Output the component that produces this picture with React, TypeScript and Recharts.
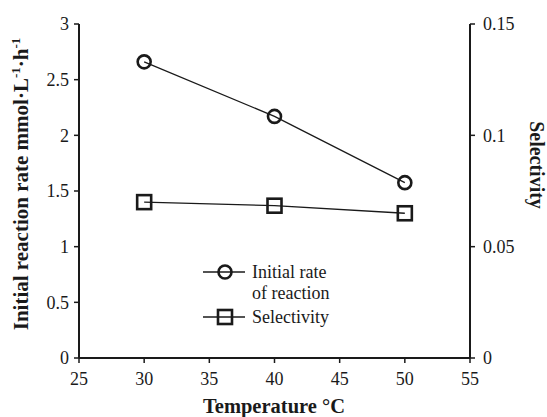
import React from "react";
import { LineChart, Line, XAxis, YAxis, Label } from "recharts";

const temperatures = [30, 40, 50];
const initialRate = [2.66, 2.17, 1.575];
const selectivity = [0.07, 0.0684, 0.065];

const xTicks = [25, 30, 35, 40, 45, 50, 55];
const leftTicks = [0, 0.5, 1, 1.5, 2, 2.5, 3];
const rightTicks = [0, 0.05, 0.1, 0.15];

const data = temperatures.map((t, i) => ({
  temp: t,
  rate: initialRate[i],
  sel: selectivity[i],
}));

const INK = "#1a1a1a";
const FONT = "'Liberation Serif', 'Times New Roman', serif";

const serif = { fontFamily: FONT };

// tick text with the serif font set directly on the element
const SerifTick = (props: any) => {
  const { x, y, payload, textAnchor, orientation } = props;
  let dy = "0.355em";
  if (orientation === "bottom") dy = "0.71em";
  return (
    <text
      x={x}
      y={y}
      dy={dy}
      textAnchor={textAnchor}
      fontSize={18}
      fill={INK}
      style={serif}
    >
      {payload.value}
    </text>
  );
};

const SquareDot = (props: any) => {
  const { cx, cy } = props;
  if (cx == null || cy == null) return null;
  return (
    <rect
      x={cx - 7}
      y={cy - 7}
      width={14}
      height={14}
      fill="none"
      stroke={INK}
      strokeWidth={2.6}
    />
  );
};

// legend drawn in svg so it takes no layout space from the plot
const LegendBox = () => (
  <g transform="translate(203,262)">
    <line x1={0} y1={10} x2={42} y2={10} stroke={INK} strokeWidth={1.3} />
    <circle cx={22} cy={10} r={6.5} fill="none" stroke={INK} strokeWidth={2.6} />
    <text x={49} y={16} fontSize={18} fill={INK} style={serif}>
      Initial rate
    </text>
    <text x={49} y={37} fontSize={18} fill={INK} style={serif}>
      of reaction
    </text>
    <line x1={0} y1={55} x2={42} y2={55} stroke={INK} strokeWidth={1.3} />
    <rect x={15} y={48} width={14} height={14} fill="none" stroke={INK} strokeWidth={2.6} />
    <text x={49} y={61} fontSize={18} fill={INK} style={serif}>
      Selectivity
    </text>
  </g>
);

const LeftTitle = () => (
  <text
    transform="translate(28,184) rotate(-90)"
    textAnchor="middle"
    style={serif}
    fontWeight="bold"
    fontSize={21}
    fill={INK}
  >
    Initial reaction rate mmol·L
    <tspan fontSize={13} dy={-8}>-1</tspan>
    <tspan dy={8}>·h</tspan>
    <tspan fontSize={13} dy={-8}>-1</tspan>
  </text>
);

const RightTitle = () => (
  <text
    transform="translate(530,165) rotate(90)"
    textAnchor="middle"
    style={serif}
    fontWeight="bold"
    fontSize={20}
    fill={INK}
  >
    Selectivity
  </text>
);

const BottomTitle = () => (
  <g>
    <text
      x={274}
      y={413}
      textAnchor="middle"
      style={serif}
      fontWeight="bold"
      fontSize={20.5}
      fill={INK}
    >
      Temperature °C
    </text>
    <LegendBox />
  </g>
);

export default function App() {
  return (
    <div style={{ position: "absolute", left: 0, top: 0, background: "#fff" }}>
      <LineChart
        width={547}
        height={417}
        data={data}
        margin={{ top: 24, right: 0, bottom: 0, left: 0 }}
      >
        <XAxis
          dataKey="temp"
          type="number"
          domain={[25, 55]}
          ticks={xTicks}
          height={59}
          tickSize={5}
          tickMargin={9}
          tick={<SerifTick />}
          axisLine={{ stroke: INK, strokeWidth: 2 }}
          tickLine={{ stroke: INK, strokeWidth: 1.5 }}
        >
          <Label content={() => <BottomTitle />} />
        </XAxis>
        <YAxis
          yAxisId="left"
          domain={[0, 3]}
          ticks={leftTicks}
          width={79}
          tickSize={5}
          tickMargin={5}
          tick={<SerifTick />}
          axisLine={{ stroke: INK, strokeWidth: 2 }}
          tickLine={{ stroke: INK, strokeWidth: 1.5 }}
        >
          <Label content={() => <LeftTitle />} />
        </YAxis>
        <YAxis
          yAxisId="right"
          orientation="right"
          domain={[0, 0.15]}
          ticks={rightTicks}
          width={77}
          tickSize={5}
          tickMargin={8}
          tick={<SerifTick />}
          axisLine={{ stroke: INK, strokeWidth: 2 }}
          tickLine={{ stroke: INK, strokeWidth: 1.5 }}
        >
          <Label content={() => <RightTitle />} />
        </YAxis>
        <Line
          yAxisId="left"
          dataKey="rate"
          stroke={INK}
          strokeWidth={1.3}
          dot={{ r: 6.5, fill: "none", stroke: INK, strokeWidth: 2.6 }}
          activeDot={false}
          isAnimationActive={false}
        />
        <Line
          yAxisId="right"
          dataKey="sel"
          stroke={INK}
          strokeWidth={1.3}
          dot={<SquareDot />}
          activeDot={false}
          isAnimationActive={false}
        />
      </LineChart>
    </div>
  );
}
